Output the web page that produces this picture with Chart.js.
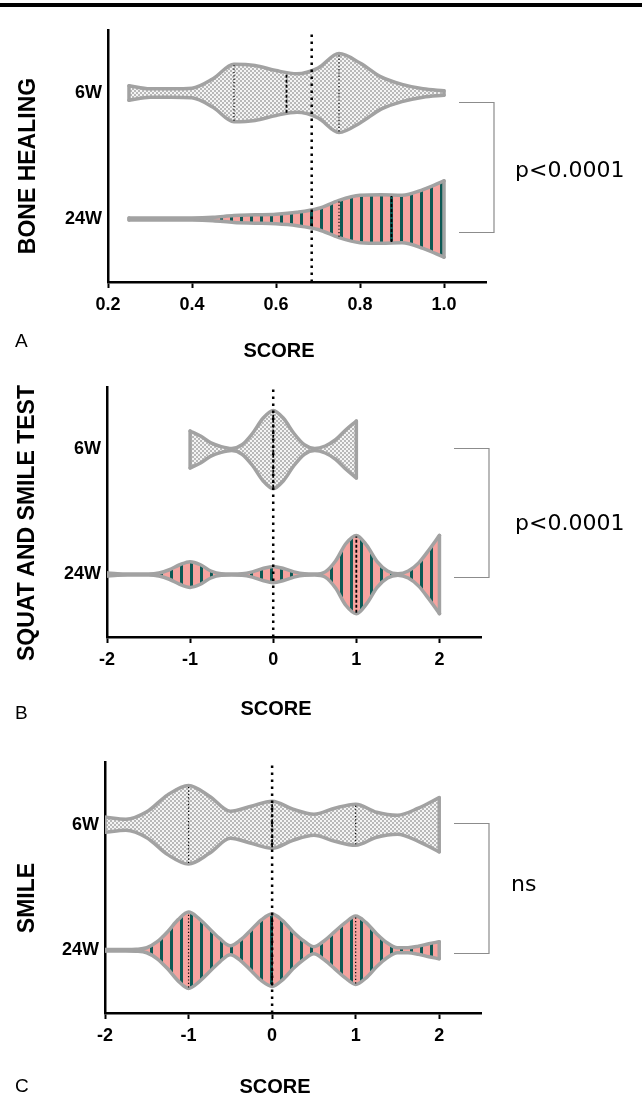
<!DOCTYPE html>
<html>
<head>
<meta charset="utf-8">
<script src="https://cdn.jsdelivr.net/npm/chart.js@4.4.1/dist/chart.umd.min.js"></script>
<style>
  body { margin: 0; background: #fff; width: 642px; height: 1096px; position: relative; overflow: hidden;
         font-family: 'Liberation Sans', Arial, sans-serif; }
  .topline { position: absolute; left: 0; top: 3px; width: 642px; height: 4px; background: #000; }
  canvas { position: absolute; left: 0; }
  .txt { position: absolute; white-space: nowrap; color: #000; line-height: 1; }
  .ytitle { font-weight: bold; font-size: 23px; transform: translate(-50%, -50%) rotate(-90deg); }
  .xtitle { font-weight: bold; font-size: 20px; transform: translate(-50%, -50%); }
  .letter { font-size: 19px; transform: translate(0, -50%); }
  .pval { font-family: 'DejaVu Sans', sans-serif; font-size: 22px; transform: translate(0, -50%); }
</style>
</head>
<body>
<div class="topline"></div>

<canvas id="boneChart" width="642" height="360" style="top:0px"></canvas>
<canvas id="squatChart" width="642" height="365" style="top:360px"></canvas>
<canvas id="smileChart" width="642" height="366" style="top:730px"></canvas>

<div class="txt ytitle" style="left:27px; top:166px">BONE HEALING</div>
<div class="txt xtitle" style="left:279px; top:350px">SCORE</div>
<div class="txt letter" style="left:15px; top:340px">A</div>
<div class="txt pval" style="left:515px; top:170px">p&lt;0.0001</div>

<div class="txt ytitle" style="left:26px; top:523px">SQUAT AND SMILE TEST</div>
<div class="txt xtitle" style="left:276px; top:708px">SCORE</div>
<div class="txt letter" style="left:15px; top:712px">B</div>
<div class="txt pval" style="left:515px; top:523px">p&lt;0.0001</div>

<div class="txt ytitle" style="left:26px; top:898px">SMILE</div>
<div class="txt xtitle" style="left:275px; top:1086px">SCORE</div>
<div class="txt letter" style="left:15px; top:1085px">C</div>
<div class="txt pval" style="left:511px; top:884px">ns</div>

<script>
// groups on the y axis (24W at 0, 6W at 1)
const groupLabels = ['24W', '6W'];
const groupValues = [0, 1];

// Panel A - bone healing score, violin half-widths
const boneX = [0.25, 0.30, 0.35, 0.40, 0.45, 0.50, 0.55, 0.60, 0.65, 0.70, 0.75, 0.80, 0.85, 0.90, 0.95, 1.00];
const bone6W = [0.058, 0.033, 0.033, 0.038, 0.113, 0.228, 0.218, 0.178, 0.153, 0.198, 0.313, 0.238, 0.128, 0.068, 0.033, 0.018];
const bone24W = [0.008, 0.008, 0.008, 0.008, 0.013, 0.028, 0.033, 0.038, 0.053, 0.083, 0.148, 0.188, 0.193, 0.188, 0.233, 0.303];
const boneMedians = [0.625, 0.875];          // 6W, 24W
const boneQuart6W = [0.5, 0.75];
const boneQuart24W = [0.75];
const boneRef = 0.685;
const boneTicks = [0.2, 0.4, 0.6, 0.8, 1.0];

// Panel B - squat and smile test
const squat6X = [-1, -0.875, -0.75, -0.625, -0.5, -0.375, -0.25, -0.125, 0, 0.125, 0.25, 0.375, 0.5, 0.625, 0.75, 0.875, 1];
const squat6W = [0.148, 0.108, 0.053, 0.023, 0.008, 0.038, 0.128, 0.248, 0.313, 0.248, 0.128, 0.038, 0.008, 0.028, 0.078, 0.158, 0.228];
const squat24X = [-2, -1.875, -1.75, -1.625, -1.5, -1.375, -1.25, -1.125, -1, -0.875, -0.75, -0.625, -0.5, -0.375, -0.25, -0.125,
                  0, 0.125, 0.25, 0.375, 0.5, 0.625, 0.75, 0.875, 1, 1.125, 1.25, 1.375, 1.5, 1.625, 1.75, 1.875, 2];
const squat24W = [0.012, 0.006, 0.004, 0.004, 0.004, 0.012, 0.038, 0.078, 0.103, 0.078, 0.028, 0.006, 0.004, 0.006, 0.021, 0.048,
                  0.065, 0.048, 0.021, 0.006, 0.004, 0.021, 0.108, 0.248, 0.313, 0.233, 0.103, 0.028, 0.006, 0.028, 0.093, 0.198, 0.313];
const squatMedians = [0, 1];
const squatQuart6W = [];
const squatQuart24W = [];
const squatRef = 0;
const scoreTicks = [-2, -1, 0, 1, 2];

// Panel C - smile
const smile6X = [-2, -1.75, -1.5, -1.25, -1, -0.75, -0.5, -0.25, 0, 0.25, 0.5, 0.75, 1, 1.25, 1.5, 1.75, 2];
const smile6W = [0.06, 0.044, 0.103, 0.238, 0.313, 0.228, 0.108, 0.148, 0.188, 0.124, 0.084, 0.132, 0.164, 0.1, 0.076, 0.132, 0.216];
const smile24X = [-2, -1.875, -1.75, -1.625, -1.5, -1.375, -1.25, -1.125, -1, -0.875, -0.75, -0.625, -0.5, -0.375, -0.25, -0.125,
                  0, 0.125, 0.25, 0.375, 0.5, 0.625, 0.75, 0.875, 1, 1.125, 1.25, 1.375, 1.5, 1.625, 1.75, 1.875, 2];
const smile24W = [0.006, 0.006, 0.006, 0.008, 0.02, 0.068, 0.148, 0.244, 0.304, 0.252, 0.172, 0.092, 0.036, 0.084, 0.164, 0.244,
                  0.288, 0.236, 0.148, 0.076, 0.028, 0.076, 0.148, 0.22, 0.272, 0.22, 0.132, 0.06, 0.02, 0.02, 0.032, 0.052, 0.068];
const smileMedians = [0, 0];
const smileQuart6W = [-1, 1];
const smileQuart24W = [-1, 1];
const smileRef = 0;

const FONT = "'Liberation Sans', Arial, sans-serif";
const OUTLINE = '#a2a2a2';

// fill patterns: grey checker for 6W, pink/teal stripes for 24W
function checkerPattern() {
    const c = document.createElement('canvas');
    c.width = 4; c.height = 4;
    const g = c.getContext('2d');
    g.fillStyle = '#f4f4f4';
    g.fillRect(0, 0, 4, 4);
    g.fillStyle = '#b8b8b8';
    g.fillRect(0, 0, 2, 2);
    g.fillRect(2, 2, 2, 2);
    return g.createPattern(c, 'repeat');
}

function stripePattern() {
    const c = document.createElement('canvas');
    c.width = 10; c.height = 4;
    const g = c.getContext('2d');
    g.fillStyle = '#f6a39f';
    g.fillRect(0, 0, 10, 4);
    g.fillStyle = '#0d5954';
    g.fillRect(0, 0, 3, 4);
    return g.createPattern(c, 'repeat');
}

// top edge filled down to bottom edge, plus the two straight end caps
function violin(xs, ws, center, fillStyle) {
    const line = {
        borderColor: OUTLINE,
        borderWidth: 3.5,
        borderJoinStyle: 'round',
        borderCapStyle: 'round',
        cubicInterpolationMode: 'monotone',
        pointRadius: 0,
        fill: false,
        order: 3
    };
    const n = xs.length - 1;
    return [
        { ...line, data: xs.map((x, i) => ({ x: x, y: center + ws[i] })), fill: '+1', backgroundColor: fillStyle },
        { ...line, data: xs.map((x, i) => ({ x: x, y: center - ws[i] })) },
        { ...line, data: [{ x: xs[0], y: center - ws[0] }, { x: xs[0], y: center + ws[0] }] },
        { ...line, data: [{ x: xs[n], y: center - ws[n] }, { x: xs[n], y: center + ws[n] }] }
    ];
}

function widthAt(xs, ws, v) {
    for (let i = 0; i < xs.length - 1; i++) {
        if (v >= xs[i] && v <= xs[i + 1]) {
            const t = (v - xs[i]) / (xs[i + 1] - xs[i]);
            return ws[i] + t * (ws[i + 1] - ws[i]);
        }
    }
    return ws[ws.length - 1];
}

function innerLine(v, xs, ws, center, isMedian) {
    const w = Math.max(widthAt(xs, ws, v) - 0.008, 0);
    return {
        data: [{ x: v, y: center - w }, { x: v, y: center + w }],
        borderColor: '#000',
        borderWidth: isMedian ? 1.8 : 1.2,
        borderDash: isMedian ? [3, 2] : [1.2, 2.2],
        pointRadius: 0,
        fill: false,
        order: 2
    };
}

function refLine(v) {
    return {
        data: [{ x: v, y: -0.5 }, { x: v, y: 1.5 }],
        borderColor: '#000',
        borderWidth: 2.5,
        borderDash: [2.5, 4.5],
        pointRadius: 0,
        fill: false,
        order: 1
    };
}

// significance bracket to the right of the plot
const bracketPlugin = {
    id: 'bracket',
    afterDraw(chart, args, opts) {
        const { ctx, chartArea, scales } = chart;
        const x0 = chartArea.right - 27;
        const x1 = chartArea.right + 8;
        const yTop = Math.round(scales.y.getPixelForValue(opts.top)) + 0.5;
        const yBot = Math.round(scales.y.getPixelForValue(opts.bottom)) + 0.5;
        ctx.save();
        ctx.strokeStyle = '#8c8c8c';
        ctx.lineWidth = 1.2;
        ctx.beginPath();
        ctx.moveTo(x0, yTop);
        ctx.lineTo(x1, yTop);
        ctx.lineTo(x1, yBot);
        ctx.lineTo(x0, yBot);
        ctx.stroke();
        ctx.restore();
    }
};

function makePanel(id, p) {
    const canvas = document.getElementById(id);
    const datasets = [refLine(p.ref)];
    datasets.push(innerLine(p.medians[0], p.x6, p.w6, 1, true));
    datasets.push(innerLine(p.medians[1], p.x24, p.w24, 0, true));
    p.quart6.forEach(q => datasets.push(innerLine(q, p.x6, p.w6, 1, false)));
    p.quart24.forEach(q => datasets.push(innerLine(q, p.x24, p.w24, 0, false)));
    datasets.push(...violin(p.x6, p.w6, 1, checkerPattern()));
    datasets.push(...violin(p.x24, p.w24, 0, stripePattern()));

    return new Chart(canvas, {
        type: 'line',
        data: { datasets: datasets },
        options: {
            responsive: false,
            animation: false,
            layout: { padding: { top: p.area.top, right: canvas.width - p.area.right, left: 0, bottom: 0 } },
            plugins: {
                legend: { display: false },
                tooltip: { enabled: false },
                filler: { drawTime: 'beforeDatasetsDraw' },
                bracket: { top: p.bracket[0], bottom: p.bracket[1] }
            },
            scales: {
                x: {
                    type: 'linear',
                    min: p.xMin,
                    max: p.xMax,
                    afterFit: s => { s.height = canvas.height - p.area.bottom; },
                    afterBuildTicks: s => { s.ticks = p.ticks.map(v => ({ value: v })); },
                    ticks: {
                        color: '#000',
                        padding: 6,
                        maxRotation: 0,
                        font: { family: FONT, size: 18, weight: 'bold' },
                        callback: v => p.fmt(v)
                    },
                    grid: { drawOnChartArea: false, drawTicks: true, tickLength: 6, tickWidth: 2, color: '#000' },
                    border: { color: '#000', width: 2.5 }
                },
                y: {
                    type: 'linear',
                    min: -0.5,
                    max: 1.5,
                    afterFit: s => { s.width = p.area.left; },
                    afterBuildTicks: s => { s.ticks = groupValues.map(v => ({ value: v })); },
                    ticks: {
                        color: '#000',
                        padding: 6,
                        font: { family: FONT, size: 18, weight: 'bold' },
                        callback: v => groupLabels[groupValues.indexOf(v)]
                    },
                    grid: { display: false, drawTicks: false },
                    border: { color: '#000', width: 2.5 }
                }
            }
        },
        plugins: [bracketPlugin]
    });
}

makePanel('boneChart', {
    x6: boneX, w6: bone6W, x24: boneX, w24: bone24W,
    medians: boneMedians, quart6: boneQuart6W, quart24: boneQuart24W, ref: boneRef,
    xMin: 0.2, xMax: 1.1, ticks: boneTicks, fmt: v => v.toFixed(1),
    area: { left: 108, right: 486, top: 30, bottom: 282 },
    bracket: [0.93, -0.1]
});

makePanel('squatChart', {
    x6: squat6X, w6: squat6W, x24: squat24X, w24: squat24W,
    medians: squatMedians, quart6: squatQuart6W, quart24: squatQuart24W, ref: squatRef,
    xMin: -2, xMax: 2.5, ticks: scoreTicks, fmt: v => String(v),
    area: { left: 107, right: 481, top: 27, bottom: 277 },
    bracket: [1.01, -0.02]
});

makePanel('smileChart', {
    x6: smile6X, w6: smile6W, x24: smile24X, w24: smile24W,
    medians: smileMedians, quart6: smileQuart6W, quart24: smileQuart24W, ref: smileRef,
    xMin: -2, xMax: 2.5, ticks: scoreTicks, fmt: v => String(v),
    area: { left: 105, right: 481, top: 32, bottom: 283 },
    bracket: [1.01, -0.02]
});
</script>
</body>
</html>
